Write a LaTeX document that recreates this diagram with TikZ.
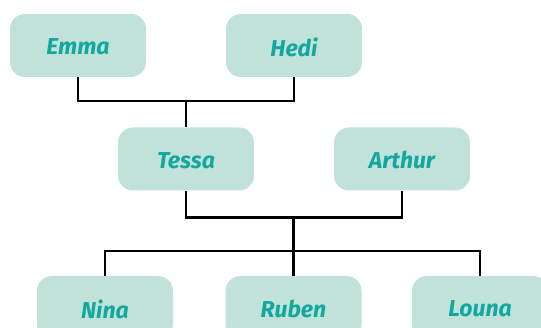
\documentclass[tikz,border=0pt]{standalone}
\usepackage{fontspec}
\setmainfont{Fira Sans}
\definecolor{boxfill}{HTML}{C1E2D9}
\definecolor{boxtext}{HTML}{12A8A0}
\newcommand{\lowered}[1]{\raisebox{-2.5pt}{#1}}
\tikzset{
  person/.style={rectangle, rounded corners=15pt, minimum width=136pt, minimum height=63pt,
    fill=boxfill, text=boxtext, font=\fontsize{23}{27}\selectfont\bfseries\itshape, inner sep=0pt,
    text depth=0pt},
  link/.style={draw=black, line width=2.4pt}
}
\begin{document}
\begin{tikzpicture}[x=1pt,y=-1pt]
\useasboundingbox (0,0) rectangle (541,328);
\begin{scope}
\clip (0,0) rectangle (541,328);
\node[person] (emma) at (78,45.5) {\lowered{Emma}};
\node[person] (hedi) at (294,45.5) {\lowered{Hedi}};
\node[person] (tessa) at (186,159) {\lowered{Tessa}};
\node[person] (arthur) at (402,159) {\lowered{Arthur}};
\node[person] (nina) at (105,307.5) {\lowered{Nina}};
\node[person] (ruben) at (293.5,307.5) {\lowered{Ruben}};
\node[person] (louna) at (480,307.5) {\lowered{Louna}};
\coordinate (c1) at (186,101);
\coordinate (c2) at (293.5,217.5);
\coordinate (c3) at (293.5,251);
\draw[link] (emma.south) |- (c1) -| (hedi.south);
\draw[link] (c1) -- (tessa.north);
\draw[link] (tessa.south) |- (c2) -| (arthur.south);
\draw[link] (c2) -- (c3);
\draw[link] (nina.north) |- (c3) -| (louna.north);
\draw[link] (c3) -- (ruben.north);
\end{scope}
\end{tikzpicture}
\end{document}
